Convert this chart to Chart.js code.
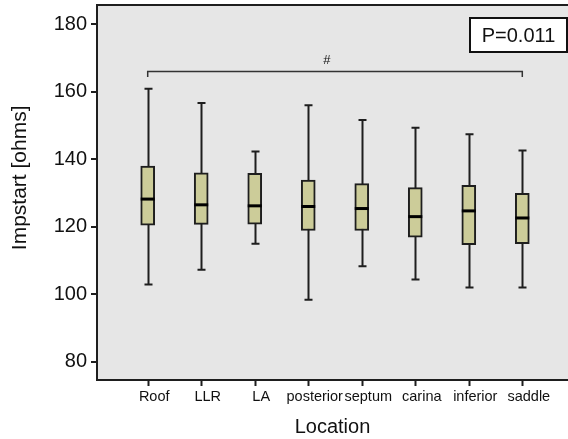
<!DOCTYPE html>
<html>
<head>
<meta charset="utf-8">
<script src="https://cdn.jsdelivr.net/npm/chart.js@4.4.0/dist/chart.umd.min.js"></script>
<style>
  html, body { margin: 0; padding: 0; background: #fff; overflow: hidden; }
  canvas { display: block; }
</style>
</head>
<body>
<canvas id="myChart" width="568" height="439"></canvas>
<script>
const categories = ['Roof', 'LLR', 'LA', 'posterior', 'septum', 'carina', 'inferior', 'saddle'];
const whiskerLow = [102.9, 107.3, 115.0, 98.4, 108.3, 104.4, 102.0, 102.0];
const q1 = [120.5, 120.7, 120.8, 118.9, 118.9, 116.9, 114.7, 115.0];
const median = [128.2, 126.5, 126.2, 126.0, 125.4, 123.0, 124.7, 122.6];
const q3 = [138.0, 136.0, 135.8, 133.8, 132.8, 131.6, 132.3, 129.9];
const whiskerHigh = [160.9, 156.7, 142.3, 156.0, 151.6, 149.3, 147.4, 142.6];
const yTicks = [80, 100, 120, 140, 160, 180];

const FONT = 'Arial, "Liberation Sans", sans-serif';
const DARK = '#1e1e1e';

// box body as floating bars, whiskers + medians via plugin
const boxData = categories.map((c, i) => ({ x: i + 1, y: [q1[i], q3[i]] }));

const boxPlugin = {
    id: 'boxParts',
    beforeDraw(chart) {
        const { ctx, chartArea: a } = chart;
        ctx.save();
        ctx.fillStyle = '#e6e6e6';
        ctx.fillRect(a.left, a.top, a.right - a.left, a.bottom - a.top);
        ctx.restore();
    },
    beforeDatasetsDraw(chart) {
        const { ctx, scales: { x, y } } = chart;
        ctx.save();
        ctx.strokeStyle = DARK;
        ctx.lineWidth = 2;
        categories.forEach((c, i) => {
            const px = Math.round(x.getPixelForValue(i + 1)) + 0.5;
            const lo = y.getPixelForValue(whiskerLow[i]);
            const hi = y.getPixelForValue(whiskerHigh[i]);
            ctx.beginPath();
            ctx.moveTo(px, lo);
            ctx.lineTo(px, hi);
            ctx.moveTo(px - 4, lo);
            ctx.lineTo(px + 4, lo);
            ctx.moveTo(px - 4, hi);
            ctx.lineTo(px + 4, hi);
            ctx.stroke();
        });
        ctx.restore();
    },
    afterDatasetsDraw(chart) {
        const { ctx, chartArea: a, scales: { x, y } } = chart;
        ctx.save();
        // medians
        ctx.strokeStyle = '#000';
        ctx.lineWidth = 3;
        categories.forEach((c, i) => {
            const px = x.getPixelForValue(i + 1);
            const py = y.getPixelForValue(median[i]);
            ctx.beginPath();
            ctx.moveTo(px - 7, py);
            ctx.lineTo(px + 7, py);
            ctx.stroke();
        });

        // bracket Roof..saddle
        const by = Math.round(y.getPixelForValue(166.2)) + 0.5;
        const bx1 = x.getPixelForValue(1);
        const bx2 = x.getPixelForValue(8);
        ctx.strokeStyle = '#333';
        ctx.lineWidth = 1.5;
        ctx.beginPath();
        ctx.moveTo(bx1, by + 5.5);
        ctx.lineTo(bx1, by);
        ctx.lineTo(bx2, by);
        ctx.lineTo(bx2, by + 5.5);
        ctx.stroke();
        ctx.fillStyle = '#111';
        ctx.font = '13px ' + FONT;
        ctx.textAlign = 'center';
        ctx.textBaseline = 'middle';
        ctx.fillText('#', x.getPixelForValue(4.35), y.getPixelForValue(169.2));

        // P value box
        const bw = 97, bh = 34;
        const left = a.right - bw - 1, top = a.top + 13;
        ctx.fillStyle = '#fff';
        ctx.fillRect(left, top, bw, bh);
        ctx.strokeStyle = '#111';
        ctx.lineWidth = 2;
        ctx.strokeRect(left, top, bw, bh);
        ctx.fillStyle = '#111';
        ctx.font = '20px ' + FONT;
        ctx.fillText('P=0.011', left + bw / 2, top + bh / 2 + 1);

        // top frame line
        ctx.strokeStyle = DARK;
        ctx.lineWidth = 2;
        ctx.beginPath();
        ctx.moveTo(a.left, a.top);
        ctx.lineTo(a.right, a.top);
        ctx.stroke();

        // category tick marks under the x axis
        ctx.beginPath();
        categories.forEach((c, i) => {
            const px = Math.round(x.getPixelForValue(i + 1)) + 0.5;
            ctx.moveTo(px, a.bottom + 1);
            ctx.lineTo(px, a.bottom + 6);
        });
        ctx.stroke();

        // y axis title (sits a bit above the axis centre in the original)
        ctx.translate(20, y.getPixelForValue(134.5));
        ctx.rotate(-Math.PI / 2);
        ctx.font = '21px ' + FONT;
        ctx.fillText('Impstart [ohms]', 0, 0);
        ctx.restore();
    }
};

const config = {
    type: 'bar',
    data: {
        datasets: [{
            data: boxData,
            backgroundColor: '#cccc99',
            borderColor: DARK,
            borderWidth: 2,
            borderSkipped: false,
            barThickness: 14
        }]
    },
    options: {
        responsive: false,
        animation: false,
        devicePixelRatio: 1,
        layout: { padding: { top: 5, left: 0, right: 0, bottom: 0 } },
        plugins: { legend: { display: false }, tooltip: { enabled: false } },
        scales: {
            x: {
                type: 'linear',
                min: 0.0525,
                max: 8.854,
                offset: false,
                afterBuildTicks: (s) => { s.ticks = categories.map((c, i) => ({ value: i + 1 })); },
                afterFit: (s) => { s.height = 59; s.paddingLeft = 0; s.paddingRight = 0; },
                grid: { display: false, drawTicks: false },
                border: { display: true, color: DARK, width: 2 },
                ticks: {
                    padding: 8,
                    labelOffset: 6.5,
                    maxRotation: 0,
                    autoSkip: false,
                    color: '#111',
                    font: { family: FONT, size: 14.5 },
                    callback: (v) => categories[v - 1]
                },
                title: {
                    display: true,
                    text: 'Location',
                    color: '#111',
                    font: { family: FONT, size: 20 },
                    padding: { top: 0, bottom: 0 }
                }
            },
            y: {
                min: 74.6,
                max: 185.7,
                afterBuildTicks: (s) => { s.ticks = yTicks.map(v => ({ value: v })); },
                afterFit: (s) => { s.width = 97; s.paddingTop = 0; s.paddingBottom = 0; },
                grid: { drawOnChartArea: false, drawTicks: true, tickLength: 6, color: DARK, lineWidth: 2 },
                border: { display: true, color: DARK, width: 2 },
                ticks: {
                    padding: 4,
                    color: '#111',
                    font: { family: FONT, size: 20 }
                },
                title: { display: false }
            }
        }
    },
    plugins: [boxPlugin]
};

const myChart = new Chart(document.getElementById('myChart'), config);
</script>
</body>
</html>
